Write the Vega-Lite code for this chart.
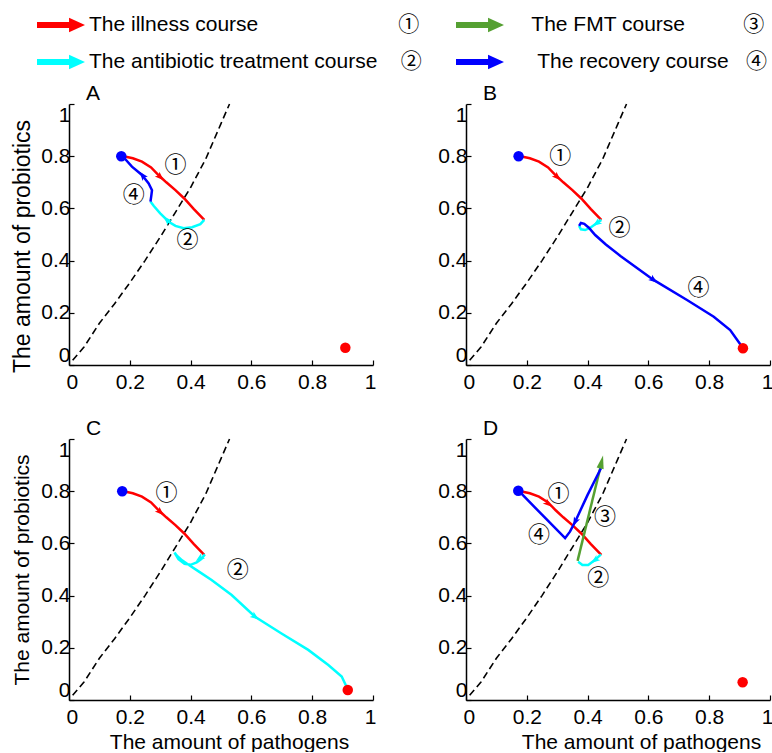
{
  "$schema": "https://vega.github.io/schema/vega-lite/v6.json",
  "background": "white",
  "padding": {"left": 11, "top": 13, "right": 0, "bottom": 0},
  "config": {
    "view": {"stroke": null},
    "font": "Liberation Sans",
    "axis": {
      "grid": false,
      "domainColor": "black",
      "domainWidth": 1.5,
      "tickColor": "black",
      "tickWidth": 1.2,
      "tickSize": -5,
      "labelFont": "Liberation Sans",
      "labelFontSize": 21,
      "labelColor": "black",
      "labelFlush": true,
      "labelOverlap": false,
      "titleFont": "Liberation Sans",
      "titleFontSize": 21,
      "titleFontWeight": "normal",
      "titleColor": "black",
      "format": "~g"
    },
    "axisX": {"labelPadding": 11, "titlePadding": 4, "labelFlushOffset": 3},
    "axisY": {"labelPadding": 4, "titlePadding": 8},
    "title": {"font": "Liberation Sans", "fontSize": 21, "fontWeight": "normal", "color": "black", "anchor": "start", "frame": "group", "dx": 17, "offset": -3}
  },
  "datasets": {
    "nullcline": [
      {"x": 0.012, "y": 0.018}, {"x": 0.05, "y": 0.07}, {"x": 0.1, "y": 0.16}, {"x": 0.15, "y": 0.235},
      {"x": 0.2, "y": 0.315}, {"x": 0.25, "y": 0.4}, {"x": 0.3, "y": 0.49}, {"x": 0.35, "y": 0.585},
      {"x": 0.4, "y": 0.68}, {"x": 0.45, "y": 0.79}, {"x": 0.5, "y": 0.925}, {"x": 0.528, "y": 1.0}
    ],
    "traj": [
      {"p": "ABCD", "c": "The illness course", "i": 0, "x": 0.175, "y": 0.801},
      {"p": "ABCD", "c": "The illness course", "i": 1, "x": 0.21, "y": 0.792},
      {"p": "ABCD", "c": "The illness course", "i": 2, "x": 0.24, "y": 0.779},
      {"p": "ABCD", "c": "The illness course", "i": 3, "x": 0.27, "y": 0.757},
      {"p": "ABCD", "c": "The illness course", "i": 4, "x": 0.295, "y": 0.727},
      {"p": "ABCD", "c": "The illness course", "i": 5, "x": 0.32, "y": 0.7},
      {"p": "ABCD", "c": "The illness course", "i": 6, "x": 0.35, "y": 0.67},
      {"p": "ABCD", "c": "The illness course", "i": 7, "x": 0.38, "y": 0.637},
      {"p": "ABCD", "c": "The illness course", "i": 8, "x": 0.41, "y": 0.598},
      {"p": "ABCD", "c": "The illness course", "i": 9, "x": 0.445, "y": 0.556},

      {"p": "A", "c": "The antibiotic treatment course", "i": 0, "x": 0.445, "y": 0.556},
      {"p": "A", "c": "The antibiotic treatment course", "i": 1, "x": 0.432, "y": 0.54},
      {"p": "A", "c": "The antibiotic treatment course", "i": 2, "x": 0.405, "y": 0.528},
      {"p": "A", "c": "The antibiotic treatment course", "i": 3, "x": 0.377, "y": 0.524},
      {"p": "A", "c": "The antibiotic treatment course", "i": 4, "x": 0.35, "y": 0.533},
      {"p": "A", "c": "The antibiotic treatment course", "i": 5, "x": 0.328, "y": 0.549},
      {"p": "A", "c": "The antibiotic treatment course", "i": 6, "x": 0.3, "y": 0.581},
      {"p": "A", "c": "The antibiotic treatment course", "i": 7, "x": 0.279, "y": 0.609},
      {"p": "A", "c": "The antibiotic treatment course", "i": 8, "x": 0.268, "y": 0.626},
      {"p": "A", "c": "The recovery course", "i": 0, "x": 0.268, "y": 0.626},
      {"p": "A", "c": "The recovery course", "i": 1, "x": 0.271, "y": 0.651},
      {"p": "A", "c": "The recovery course", "i": 2, "x": 0.273, "y": 0.67},
      {"p": "A", "c": "The recovery course", "i": 3, "x": 0.262, "y": 0.696},
      {"p": "A", "c": "The recovery course", "i": 4, "x": 0.24, "y": 0.728},
      {"p": "A", "c": "The recovery course", "i": 5, "x": 0.207, "y": 0.76},
      {"p": "A", "c": "The recovery course", "i": 6, "x": 0.178, "y": 0.798},

      {"p": "B", "c": "The antibiotic treatment course", "i": 0, "x": 0.445, "y": 0.556},
      {"p": "B", "c": "The antibiotic treatment course", "i": 1, "x": 0.425, "y": 0.539},
      {"p": "B", "c": "The antibiotic treatment course", "i": 2, "x": 0.409, "y": 0.526},
      {"p": "B", "c": "The antibiotic treatment course", "i": 3, "x": 0.392, "y": 0.517},
      {"p": "B", "c": "The antibiotic treatment course", "i": 4, "x": 0.378, "y": 0.52},
      {"p": "B", "c": "The antibiotic treatment course", "i": 5, "x": 0.372, "y": 0.533},
      {"p": "B", "c": "The recovery course", "i": 0, "x": 0.372, "y": 0.533},
      {"p": "B", "c": "The recovery course", "i": 1, "x": 0.378, "y": 0.544},
      {"p": "B", "c": "The recovery course", "i": 2, "x": 0.389, "y": 0.541},
      {"p": "B", "c": "The recovery course", "i": 3, "x": 0.404, "y": 0.526},
      {"p": "B", "c": "The recovery course", "i": 4, "x": 0.425, "y": 0.498},
      {"p": "B", "c": "The recovery course", "i": 5, "x": 0.46, "y": 0.462},
      {"p": "B", "c": "The recovery course", "i": 6, "x": 0.508, "y": 0.418},
      {"p": "B", "c": "The recovery course", "i": 7, "x": 0.617, "y": 0.326},
      {"p": "B", "c": "The recovery course", "i": 8, "x": 0.727, "y": 0.249},
      {"p": "B", "c": "The recovery course", "i": 9, "x": 0.815, "y": 0.185},
      {"p": "B", "c": "The recovery course", "i": 10, "x": 0.869, "y": 0.134},
      {"p": "B", "c": "The recovery course", "i": 11, "x": 0.908, "y": 0.07},

      {"p": "C", "c": "The antibiotic treatment course", "i": 0, "x": 0.447, "y": 0.558},
      {"p": "C", "c": "The antibiotic treatment course", "i": 1, "x": 0.435, "y": 0.54},
      {"p": "C", "c": "The antibiotic treatment course", "i": 2, "x": 0.42, "y": 0.527},
      {"p": "C", "c": "The antibiotic treatment course", "i": 3, "x": 0.4, "y": 0.518},
      {"p": "C", "c": "The antibiotic treatment course", "i": 4, "x": 0.38, "y": 0.522},
      {"p": "C", "c": "The antibiotic treatment course", "i": 5, "x": 0.36, "y": 0.54},
      {"p": "C", "c": "The antibiotic treatment course", "i": 6, "x": 0.347, "y": 0.565},
      {"p": "C", "c": "The antibiotic treatment course", "i": 7, "x": 0.355, "y": 0.553},
      {"p": "C", "c": "The antibiotic treatment course", "i": 8, "x": 0.372, "y": 0.535},
      {"p": "C", "c": "The antibiotic treatment course", "i": 9, "x": 0.392, "y": 0.519},
      {"p": "C", "c": "The antibiotic treatment course", "i": 10, "x": 0.43, "y": 0.49},
      {"p": "C", "c": "The antibiotic treatment course", "i": 11, "x": 0.469, "y": 0.46},
      {"p": "C", "c": "The antibiotic treatment course", "i": 12, "x": 0.535, "y": 0.402},
      {"p": "C", "c": "The antibiotic treatment course", "i": 13, "x": 0.612, "y": 0.319},
      {"p": "C", "c": "The antibiotic treatment course", "i": 14, "x": 0.699, "y": 0.255},
      {"p": "C", "c": "The antibiotic treatment course", "i": 15, "x": 0.787, "y": 0.192},
      {"p": "C", "c": "The antibiotic treatment course", "i": 16, "x": 0.853, "y": 0.134},
      {"p": "C", "c": "The antibiotic treatment course", "i": 17, "x": 0.897, "y": 0.09},
      {"p": "C", "c": "The antibiotic treatment course", "i": 18, "x": 0.913, "y": 0.051},

      {"p": "D", "c": "The antibiotic treatment course", "i": 0, "x": 0.444, "y": 0.558},
      {"p": "D", "c": "The antibiotic treatment course", "i": 1, "x": 0.424, "y": 0.536},
      {"p": "D", "c": "The antibiotic treatment course", "i": 2, "x": 0.402, "y": 0.517},
      {"p": "D", "c": "The antibiotic treatment course", "i": 3, "x": 0.383, "y": 0.517},
      {"p": "D", "c": "The antibiotic treatment course", "i": 4, "x": 0.369, "y": 0.53},
      {"p": "D", "c": "The FMT course", "i": 0, "x": 0.367, "y": 0.533},
      {"p": "D", "c": "The FMT course", "i": 1, "x": 0.445, "y": 0.905},
      {"p": "D", "c": "The recovery course", "i": 0, "x": 0.444, "y": 0.888},
      {"p": "D", "c": "The recovery course", "i": 1, "x": 0.4, "y": 0.786},
      {"p": "D", "c": "The recovery course", "i": 2, "x": 0.359, "y": 0.683},
      {"p": "D", "c": "The recovery course", "i": 3, "x": 0.342, "y": 0.645},
      {"p": "D", "c": "The recovery course", "i": 4, "x": 0.326, "y": 0.62},
      {"p": "D", "c": "The recovery course", "i": 5, "x": 0.25, "y": 0.71},
      {"p": "D", "c": "The recovery course", "i": 6, "x": 0.176, "y": 0.798}
    ],
    "heads": [
      {"p": "A", "c": "The illness course", "x": 0.3, "y": 0.72, "angle": 134},
      {"p": "A", "c": "The antibiotic treatment course", "x": 0.322, "y": 0.556, "angle": -46},
      {"p": "A", "c": "The recovery course", "x": 0.242, "y": 0.726, "angle": -39},
      {"p": "B", "c": "The illness course", "x": 0.3, "y": 0.72, "angle": 134},
      {"p": "B", "c": "The antibiotic treatment course", "x": 0.43, "y": 0.543, "angle": -126},
      {"p": "B", "c": "The recovery course", "x": 0.617, "y": 0.326, "angle": 126},
      {"p": "C", "c": "The illness course", "x": 0.3, "y": 0.72, "angle": 134},
      {"p": "C", "c": "The antibiotic treatment course", "x": 0.43, "y": 0.543, "angle": -126},
      {"p": "C", "c": "The antibiotic treatment course", "x": 0.612, "y": 0.319, "angle": 126},
      {"p": "D", "c": "The illness course", "x": 0.27, "y": 0.752, "angle": 129},
      {"p": "D", "c": "The antibiotic treatment course", "x": 0.424, "y": 0.536, "angle": -126},
      {"p": "D", "c": "The recovery course", "x": 0.359, "y": 0.683, "angle": -154}
    ],
    "fmtHead": [
      {"p": "D", "c": "The FMT course", "x": 0.446, "y": 0.912, "angle": 13}
    ],
    "states": [
      {"p": "A", "state": "healthy", "x": 0.172, "y": 0.8},
      {"p": "A", "state": "disease", "x": 0.909, "y": 0.066},
      {"p": "B", "state": "healthy", "x": 0.173, "y": 0.8},
      {"p": "B", "state": "disease", "x": 0.911, "y": 0.064},
      {"p": "C", "state": "healthy", "x": 0.175, "y": 0.8},
      {"p": "C", "state": "disease", "x": 0.917, "y": 0.038},
      {"p": "D", "state": "healthy", "x": 0.172, "y": 0.802},
      {"p": "D", "state": "disease", "x": 0.91, "y": 0.068}
    ],
    "marks": [
      {"p": "A", "t": "①", "x": 0.35, "y": 0.766},
      {"p": "A", "t": "②", "x": 0.39, "y": 0.479},
      {"p": "A", "t": "④", "x": 0.213, "y": 0.651},
      {"p": "B", "t": "①", "x": 0.31, "y": 0.8},
      {"p": "B", "t": "②", "x": 0.505, "y": 0.525},
      {"p": "B", "t": "④", "x": 0.765, "y": 0.294},
      {"p": "C", "t": "①", "x": 0.321, "y": 0.795},
      {"p": "C", "t": "②", "x": 0.555, "y": 0.498},
      {"p": "D", "t": "①", "x": 0.304, "y": 0.788},
      {"p": "D", "t": "②", "x": 0.435, "y": 0.469},
      {"p": "D", "t": "③", "x": 0.457, "y": 0.703},
      {"p": "D", "t": "④", "x": 0.24, "y": 0.632}
    ]
  },
  "spacing": 25,
  "vconcat": [
    {
      "spacing": 61,
      "hconcat": [
        {
          "width": 304, "height": 261,
          "title": {"text": "A"},
          "layer": [
            {"data": {"name": "nullcline"}, "mark": {"type": "line", "stroke": "black", "strokeWidth": 1.6, "strokeDash": [7, 4]},
             "encoding": {
               "x": {"field": "x", "type": "quantitative", "scale": {"domain": [0, 1], "nice": false}, "axis": {"title": null, "values": [0, 0.2, 0.4, 0.6, 0.8, 1]}},
               "y": {"field": "y", "type": "quantitative", "scale": {"domain": [0, 1], "nice": false}, "axis": {"title": "The amount of probiotics", "titleFontSize": 23, "titleY": 142, "titlePadding": 6, "values": [0, 0.2, 0.4, 0.6, 0.8, 1]}}}},
            {"data": {"name": "traj"}, "transform": [{"filter": "indexof(datum.p, 'A') >= 0"}],
             "mark": {"type": "line", "strokeWidth": 2.5},
             "encoding": {
               "x": {"field": "x", "type": "quantitative"}, "y": {"field": "y", "type": "quantitative"},
               "color": {"field": "c", "type": "nominal",
                 "scale": {"domain": ["The illness course", "The antibiotic treatment course", "The FMT course", "The recovery course"], "range": ["#ff0000", "#00ffff", "#55a032", "#0000ff"]},
                 "legend": {
                   "title": null, "orient": "none", "legendX": -20, "legendY": -91, "columns": 2, "columnPadding": 34, "rowPadding": 15,
                   "symbolType": "M-2,-0.25L0.67,-0.25L0.67,-0.6L2,0L0.67,0.6L0.67,0.25L-2,0.25Z",
                   "symbolSize": 576, "symbolStrokeWidth": 0, "symbolOpacity": 1,
                   "labelFont": "Liberation Sans, Noto Sans CJK JP", "labelFontSize": 21, "labelColor": "black", "labelOffset": 16, "labelLimit": 0,
                   "labelExpr": "datum.label == 'The illness course' ? 'The illness course' + pad('', 24, '\u00a0') + '①' : datum.label == 'The antibiotic treatment course' ? 'The antibiotic treatment course' + pad('', 4, '\u00a0') + '②' : datum.label == 'The FMT course' ? '\u200b' + pad('', 4, '\u00a0') + 'The FMT course' + pad('', 10, '\u00a0') + '③' : '\u200b' + pad('', 5, '\u00a0') + 'The recovery course' + pad('', 3, '\u00a0') + '④'",
                   "encode": {"symbols": {"update": {"fill": {"scale": "color", "field": "value"}, "fillOpacity": {"value": 1}}}}
                 }},
               "detail": {"field": "c"},
               "order": {"field": "i", "type": "quantitative"}}},
            {"data": {"name": "heads"}, "transform": [{"filter": "datum.p == 'A'"}],
             "mark": {"type": "point", "filled": true, "opacity": 1, "size": 90, "shape": "M0,-1L0.7,0.9L0,0.45L-0.7,0.9Z"},
             "encoding": {"x": {"field": "x", "type": "quantitative"}, "y": {"field": "y", "type": "quantitative"}, "color": {"field": "c", "type": "nominal"}, "angle": {"field": "angle", "type": "quantitative", "scale": null}}},
            {"data": {"name": "states"}, "transform": [{"filter": "datum.p == 'A'"}],
             "mark": {"type": "point", "filled": true, "opacity": 1, "size": 110, "shape": "circle"},
             "encoding": {"x": {"field": "x", "type": "quantitative"}, "y": {"field": "y", "type": "quantitative"},
               "fill": {"field": "state", "type": "nominal", "scale": {"domain": ["healthy", "disease"], "range": ["#0000ff", "#ff0000"]}, "legend": null}}},
            {"data": {"name": "marks"}, "transform": [{"filter": "datum.p == 'A'"}],
             "mark": {"type": "text", "font": "Noto Sans CJK JP", "fontSize": 22, "color": "black"},
             "encoding": {"x": {"field": "x", "type": "quantitative"}, "y": {"field": "y", "type": "quantitative"}, "text": {"field": "t"}}}
          ]
        },
        {
          "width": 304, "height": 261,
          "title": {"text": "B"},
          "layer": [
            {"data": {"name": "nullcline"}, "mark": {"type": "line", "stroke": "black", "strokeWidth": 1.6, "strokeDash": [7, 4]},
             "encoding": {
               "x": {"field": "x", "type": "quantitative", "scale": {"domain": [0, 1], "nice": false}, "axis": {"title": null, "values": [0, 0.2, 0.4, 0.6, 0.8, 1]}},
               "y": {"field": "y", "type": "quantitative", "scale": {"domain": [0, 1], "nice": false}, "axis": {"title": null, "values": [0, 0.2, 0.4, 0.6, 0.8, 1]}}}},
            {"data": {"name": "traj"}, "transform": [{"filter": "indexof(datum.p, 'B') >= 0"}],
             "mark": {"type": "line", "strokeWidth": 2.5},
             "encoding": {
               "x": {"field": "x", "type": "quantitative"}, "y": {"field": "y", "type": "quantitative"},
               "color": {"field": "c", "type": "nominal"},
               "detail": {"field": "c"},
               "order": {"field": "i", "type": "quantitative"}}},
            {"data": {"name": "heads"}, "transform": [{"filter": "datum.p == 'B'"}],
             "mark": {"type": "point", "filled": true, "opacity": 1, "size": 90, "shape": "M0,-1L0.7,0.9L0,0.45L-0.7,0.9Z"},
             "encoding": {"x": {"field": "x", "type": "quantitative"}, "y": {"field": "y", "type": "quantitative"}, "color": {"field": "c", "type": "nominal"}, "angle": {"field": "angle", "type": "quantitative", "scale": null}}},
            {"data": {"name": "states"}, "transform": [{"filter": "datum.p == 'B'"}],
             "mark": {"type": "point", "filled": true, "opacity": 1, "size": 110, "shape": "circle"},
             "encoding": {"x": {"field": "x", "type": "quantitative"}, "y": {"field": "y", "type": "quantitative"},
               "fill": {"field": "state", "type": "nominal", "scale": {"domain": ["healthy", "disease"], "range": ["#0000ff", "#ff0000"]}, "legend": null}}},
            {"data": {"name": "marks"}, "transform": [{"filter": "datum.p == 'B'"}],
             "mark": {"type": "text", "font": "Noto Sans CJK JP", "fontSize": 22, "color": "black"},
             "encoding": {"x": {"field": "x", "type": "quantitative"}, "y": {"field": "y", "type": "quantitative"}, "text": {"field": "t"}}}
          ]
        }
      ]
    },
    {
      "spacing": 61,
      "hconcat": [
        {
          "width": 304, "height": 261,
          "title": {"text": "C"},
          "layer": [
            {"data": {"name": "nullcline"}, "mark": {"type": "line", "stroke": "black", "strokeWidth": 1.6, "strokeDash": [7, 4]},
             "encoding": {
               "x": {"field": "x", "type": "quantitative", "scale": {"domain": [0, 1], "nice": false}, "axis": {"title": "The amount of pathogens", "titleX": 160, "values": [0, 0.2, 0.4, 0.6, 0.8, 1]}},
               "y": {"field": "y", "type": "quantitative", "scale": {"domain": [0, 1], "nice": false}, "axis": {"title": "The amount of probiotics", "values": [0, 0.2, 0.4, 0.6, 0.8, 1]}}}},
            {"data": {"name": "traj"}, "transform": [{"filter": "indexof(datum.p, 'C') >= 0"}],
             "mark": {"type": "line", "strokeWidth": 2.5},
             "encoding": {
               "x": {"field": "x", "type": "quantitative"}, "y": {"field": "y", "type": "quantitative"},
               "color": {"field": "c", "type": "nominal"},
               "detail": {"field": "c"},
               "order": {"field": "i", "type": "quantitative"}}},
            {"data": {"name": "heads"}, "transform": [{"filter": "datum.p == 'C'"}],
             "mark": {"type": "point", "filled": true, "opacity": 1, "size": 90, "shape": "M0,-1L0.7,0.9L0,0.45L-0.7,0.9Z"},
             "encoding": {"x": {"field": "x", "type": "quantitative"}, "y": {"field": "y", "type": "quantitative"}, "color": {"field": "c", "type": "nominal"}, "angle": {"field": "angle", "type": "quantitative", "scale": null}}},
            {"data": {"name": "states"}, "transform": [{"filter": "datum.p == 'C'"}],
             "mark": {"type": "point", "filled": true, "opacity": 1, "size": 110, "shape": "circle"},
             "encoding": {"x": {"field": "x", "type": "quantitative"}, "y": {"field": "y", "type": "quantitative"},
               "fill": {"field": "state", "type": "nominal", "scale": {"domain": ["healthy", "disease"], "range": ["#0000ff", "#ff0000"]}, "legend": null}}},
            {"data": {"name": "marks"}, "transform": [{"filter": "datum.p == 'C'"}],
             "mark": {"type": "text", "font": "Noto Sans CJK JP", "fontSize": 22, "color": "black"},
             "encoding": {"x": {"field": "x", "type": "quantitative"}, "y": {"field": "y", "type": "quantitative"}, "text": {"field": "t"}}}
          ]
        },
        {
          "width": 304, "height": 261,
          "title": {"text": "D"},
          "layer": [
            {"data": {"name": "nullcline"}, "mark": {"type": "line", "stroke": "black", "strokeWidth": 1.6, "strokeDash": [7, 4]},
             "encoding": {
               "x": {"field": "x", "type": "quantitative", "scale": {"domain": [0, 1], "nice": false}, "axis": {"title": "The amount of pathogens", "titleX": 175, "values": [0, 0.2, 0.4, 0.6, 0.8, 1]}},
               "y": {"field": "y", "type": "quantitative", "scale": {"domain": [0, 1], "nice": false}, "axis": {"title": null, "values": [0, 0.2, 0.4, 0.6, 0.8, 1]}}}},
            {"data": {"name": "traj"}, "transform": [{"filter": "indexof(datum.p, 'D') >= 0"}],
             "mark": {"type": "line", "strokeWidth": 2.5},
             "encoding": {
               "x": {"field": "x", "type": "quantitative"}, "y": {"field": "y", "type": "quantitative"},
               "color": {"field": "c", "type": "nominal"},
               "detail": {"field": "c"},
               "order": {"field": "i", "type": "quantitative"}}},
            {"data": {"name": "heads"}, "transform": [{"filter": "datum.p == 'D'"}],
             "mark": {"type": "point", "filled": true, "opacity": 1, "size": 90, "shape": "M0,-1L0.7,0.9L0,0.45L-0.7,0.9Z"},
             "encoding": {"x": {"field": "x", "type": "quantitative"}, "y": {"field": "y", "type": "quantitative"}, "color": {"field": "c", "type": "nominal"}, "angle": {"field": "angle", "type": "quantitative", "scale": null}}},
            {"data": {"name": "fmtHead"},
             "mark": {"type": "point", "filled": true, "opacity": 1, "size": 170, "shape": "M0,-1L0.55,1L-0.55,1Z"},
             "encoding": {"x": {"field": "x", "type": "quantitative"}, "y": {"field": "y", "type": "quantitative"}, "color": {"field": "c", "type": "nominal"}, "angle": {"field": "angle", "type": "quantitative", "scale": null}}},
            {"data": {"name": "states"}, "transform": [{"filter": "datum.p == 'D'"}],
             "mark": {"type": "point", "filled": true, "opacity": 1, "size": 110, "shape": "circle"},
             "encoding": {"x": {"field": "x", "type": "quantitative"}, "y": {"field": "y", "type": "quantitative"},
               "fill": {"field": "state", "type": "nominal", "scale": {"domain": ["healthy", "disease"], "range": ["#0000ff", "#ff0000"]}, "legend": null}}},
            {"data": {"name": "marks"}, "transform": [{"filter": "datum.p == 'D'"}],
             "mark": {"type": "text", "font": "Noto Sans CJK JP", "fontSize": 22, "color": "black"},
             "encoding": {"x": {"field": "x", "type": "quantitative"}, "y": {"field": "y", "type": "quantitative"}, "text": {"field": "t"}}}
          ]
        }
      ]
    }
  ]
}
